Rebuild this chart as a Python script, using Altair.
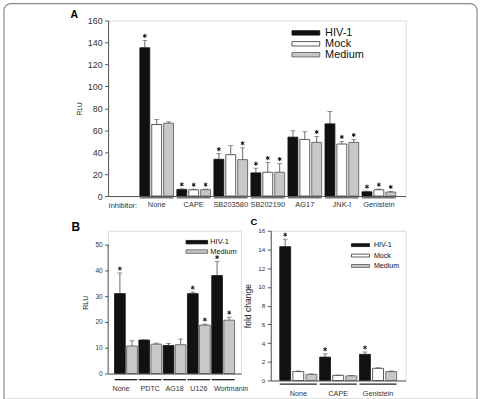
import altair as alt
import pandas as pd

FONT = "Liberation Sans"

# ---------------- Panel A data ----------------
A_groups = ["None", "CAPE", "SB203580", "SB202190", "AG17", "JNK-I", "Genistein"]
A_series = ["HIV-1", "Mock", "Medium"]
A_hiv = [135.2, 6.0, 33.5, 21.1, 53.7, 65.8, 3.9]
A_hiv_err = [141.9, 6.5, 38.6, 25.4, 59.5, 77.0, 4.5]
A_mock = [65.2, 5.7, 37.7, 21.7, 51.6, 47.4, 5.7]
A_mock_err = [69.7, 6.2, 45.9, 30.5, 58.6, 49.8, 6.3]
A_med = [66.4, 5.8, 33.2, 21.7, 48.9, 48.9, 3.6]
A_med_err = [67.6, 6.3, 44.0, 29.6, 54.3, 51.6, 4.2]
A_star_hiv = [1, 1, 1, 1, 0, 0, 1]
A_star_mock = [0, 1, 0, 1, 0, 1, 1]
A_star_med = [0, 1, 1, 1, 1, 1, 1]
A_yticks = [0, 20, 40, 60, 80, 100, 120, 140, 160]

# ---------------- Panel B data ----------------
B_groups = ["None", "PDTC", "AG18", "U126", "Wortmanin"]
B_series = ["HIV-1", "Medium"]
B_hiv = [31.0, 13.0, 10.9, 31.0, 38.0]
B_hiv_err = [39.0, 13.1, 11.7, 31.6, 43.4]
B_med = [10.7, 11.4, 11.2, 18.8, 20.7]
B_med_err = [12.7, 11.8, 13.4, 19.2, 21.9]
B_star_hiv = [1, 0, 0, 1, 1]
B_star_med = [0, 0, 0, 1, 1]
B_yticks = [0, 10, 20, 30, 40, 50]

# ---------------- Panel C data ----------------
C_groups = ["None", "CAPE", "Genistein"]
C_series = ["HIV-1", "Mock", "Medium"]
C_hiv = [14.3, 2.5, 2.8]
C_hiv_err = [15.1, 2.85, 3.05]
C_mock = [0.95, 0.55, 1.3]
C_mock_err = [1.02, 0.58, 1.36]
C_med = [0.65, 0.5, 0.95]
C_med_err = [0.7, 0.52, 1.02]
C_star_hiv = [1, 1, 1]
C_star_mock = [0, 0, 0]
C_star_med = [0, 0, 0]
C_yticks = [0, 2, 4, 6, 8, 10, 12, 14, 16]

FILL = {"HIV-1": "#111111", "Mock": "#ffffff", "Medium": "#c8c8c8"}
STROKE = {"HIV-1": "#111111", "Mock": "#333333", "Medium": "#555555"}
SWATCH = "M-2.5,-0.4L2.5,-0.4L2.5,0.4L-2.5,0.4Z"
ASTERISK = "M0,-1L0,1M-0.87,-0.5L0.87,0.5M-0.87,0.5L0.87,-0.5"


def long_df(groups, series, values, errs, stars):
    rows = []
    for s, vals, es, st in zip(series, values, errs, stars):
        for g, v, e, t in zip(groups, vals, es, st):
            rows.append({"group": g, "series": s, "value": v, "err": e, "star": t})
    return pd.DataFrame(rows)


def panel(df, groups, series, width, height, yticks, ytitle, xs, sub_pi,
          ylab_fs, ytitle_fs, xlab_fs, xlab_pad, under, leg, label, star_size,
          xtitle=None, label_offset=None, ytop=None, frame=None):
    fills = [FILL[s] for s in series]
    strokes = [STROKE[s] for s in series]
    xaxis_kw = dict(labelAngle=0, ticks=False, tickSize=0, labelFontSize=xlab_fs,
                    labelPadding=xlab_pad, labelColor="#333", labelFont=FONT,
                    domainColor="#555", domainWidth=1, title=xtitle)
    if xtitle:
        xaxis_kw.update(titleX=0, titleY=xlab_pad + xlab_fs * 0.55, titleAlign="left",
                        titleBaseline="middle", titleFontWeight="normal",
                        titleFontSize=xlab_fs, titleColor="#333", titleFont=FONT)
    if label_offset is not None:
        xaxis_kw["labelOffset"] = label_offset
    x = alt.X("group:N", sort=groups,
              scale=alt.Scale(domain=groups, paddingInner=xs[0], paddingOuter=xs[1], align=xs[2]),
              axis=alt.Axis(**xaxis_kw))
    xo = alt.XOffset("series:N", sort=series,
                     scale=alt.Scale(domain=series, paddingInner=sub_pi, paddingOuter=0))
    top = ytop if ytop is not None else yticks[-1]
    y = alt.Y("value:Q",
              scale=alt.Scale(domain=[yticks[0], top], nice=False, zero=True),
              axis=alt.Axis(values=yticks, tickCount=len(yticks), grid=False, tickSize=3.5,
                            tickColor="#555", domain=ytop is None, labelOverlap=False,
                            labelFlush=False, domainColor="#555", labelFontSize=ylab_fs,
                            labelColor="#333", labelFont=FONT, labelPadding=2.5, title=ytitle,
                            titleFontSize=ytitle_fs, titleFontWeight="normal",
                            titleColor="#222", titleFont=FONT, titlePadding=5))
    base = alt.Chart(df)
    bars = base.mark_bar(strokeWidth=0.8).encode(
        x=x, xOffset=xo, y=y,
        fill=alt.Fill("series:N", sort=series,
                      scale=alt.Scale(domain=series, range=fills),
                      legend=alt.Legend(orient="none", legendX=leg[0], legendY=leg[1],
                                        title=None, symbolType=SWATCH,
                                        symbolSize=leg[2] ** 2, symbolStrokeColor="#333",
                                        symbolStrokeWidth=0.8, labelFontSize=leg[3],
                                        labelFont=FONT, labelColor="#111",
                                        labelOffset=leg[4], rowPadding=leg[5], padding=0)),
        stroke=alt.Stroke("series:N", sort=series,
                          scale=alt.Scale(domain=series, range=strokes), legend=None),
    )
    rules = base.mark_rule(color="#444", strokeWidth=0.8).encode(
        x=x, xOffset=xo, y="value:Q", y2="err:Q")
    caps = base.mark_tick(orient="horizontal", size=5, thickness=0.8, color="#444").encode(
        x=x, xOffset=xo, y="err:Q")
    stars = base.transform_filter("datum.star == 1").mark_point(
        shape=ASTERISK, size=star_size, filled=False, stroke="#111", strokeWidth=1,
        opacity=1, yOffset=-4.5).encode(x=x, xOffset=xo, y="err:Q")
    gdf = pd.DataFrame({"group": groups})
    underline = alt.Chart(gdf).mark_rect(color=under[2]).encode(
        x=x, y=alt.value(height + under[0]), y2=alt.value(height + under[1]))
    # panel letter (annotation)
    letter = alt.Chart(gdf.head(1)).mark_text(
        text=label[0], font=FONT, fontSize=label[3], fontWeight="bold", color="#000",
        align="left", baseline="alphabetic").encode(
        x=alt.value(label[1]), y=alt.value(label[2]))
    layers = [underline, bars, rules, caps, stars, letter]
    if ytop is not None:
        axis_line = alt.Chart(gdf.head(1)).mark_rule(color="#555", strokeWidth=1).encode(
            x=alt.value(0), y=alt.datum(yticks[0]), y2=alt.datum(yticks[-1]))
        layers.append(axis_line)
    if frame is not None:
        border = alt.Chart(gdf.head(1)).mark_rect(
            fill=None, stroke="#8a8a8a", strokeWidth=1.2,
            cornerRadiusTopLeft=7, cornerRadiusTopRight=7).encode(
            x=alt.value(frame[0]), x2=alt.value(frame[1]),
            y=alt.value(frame[2]), y2=alt.value(frame[3]))
        layers.insert(0, border)
    return alt.layer(*layers).properties(width=width, height=height)


dfA = long_df(A_groups, A_series, [A_hiv, A_mock, A_med],
              [A_hiv_err, A_mock_err, A_med_err], [A_star_hiv, A_star_mock, A_star_med])
dfB = long_df(B_groups, B_series, [B_hiv, B_med], [B_hiv_err, B_med_err],
              [B_star_hiv, B_star_med])
dfC = long_df(C_groups, C_series, [C_hiv, C_mock, C_med],
              [C_hiv_err, C_mock_err, C_med_err], [C_star_hiv, C_star_mock, C_star_med])

B_offset = {"condition": [{"test": "datum.label == 'Wortmanin'", "value": 8},
                          {"test": "datum.label == 'None'", "value": -5}],
            "value": 0}

# legend tuple: (legendX, legendY, symbol box s, font size, labelOffset, rowPadding)
A = panel(dfA, A_groups, A_series, 300, 177, A_yticks, "RLU", (0.09, 0.5625, 0.762), 0.167,
          9, 6.5, 7.5, 5, (0.5, 2.5, "#777"), (193.4, 6.5, 11.2, 11, 13.4, -1.5),
          ("A", -38, -3, 10.5), 18,
          xtitle="Inhibitor:", frame=(-105, 372, -17, 382))
B = panel(dfB, B_groups, B_series, 134, 144, B_yticks, "RLU", (0.06, 0.265, 0.5), 0.115,
          6.6, 7.2, 7.2, 11, (5.5, 6.8, "#222"), (84.5, 6.5, 8.7, 7.5, 8.5, 0.5),
          ("B", -37, 0, 12), 16,
          label_offset=B_offset, ytop=50 * 144 / 130)
C = panel(dfC, C_groups, C_series, 136, 151, C_yticks, "fold change", (0.07, 0.226, 0.5), 0.17,
          6.3, 8.6, 7.3, 9, (3, 4.2, "#222"), (86, 10, 7.3, 7.2, 9, 2.5),
          ("C", -20.5, -5.5, 9.5), 16)

chart = alt.vconcat(
    A,
    alt.hconcat(B, C, spacing=30, bounds="flush").resolve_scale(
        x="independent", y="independent", xOffset="independent",
        fill="independent", stroke="independent").resolve_legend(fill="independent"),
    spacing=35, bounds="flush",
).resolve_scale(
    x="independent", y="independent", xOffset="independent",
    fill="independent", stroke="independent",
).resolve_legend(fill="independent").properties(
    padding={"left": 2, "top": 0, "right": 2, "bottom": -2}
).configure_view(stroke=None).configure(background="white")

chart.save("out.html", embed_options={"renderer": "svg", "actions": False})
